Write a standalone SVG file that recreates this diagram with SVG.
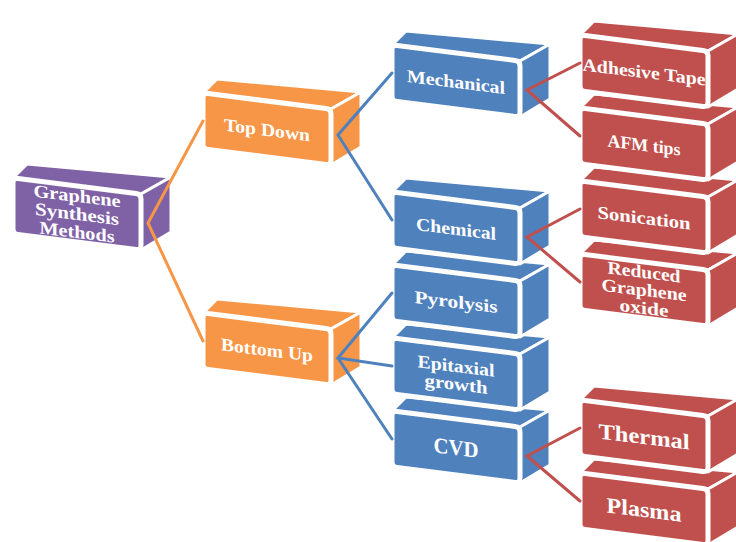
<svg xmlns="http://www.w3.org/2000/svg" xmlns:xlink="http://www.w3.org/1999/xlink" width="736" height="542" viewBox="0 0 736 542">
<defs>
<style>
.face{stroke:#fff;stroke-width:3;stroke-linejoin:round}
.front{stroke:#fff;stroke-width:5;stroke-linejoin:round}
.purple{fill:#7F62A6}
.orange{fill:#F79646}
.blue{fill:#4F81BD}
.red{fill:#C0504D}
.t{font-family:"Liberation Serif","Times New Roman",serif;font-weight:bold;font-size:18px;fill:#fff;text-anchor:middle}
.big{font-size:22px}
.c{fill:none;stroke-width:3;stroke-linecap:round}
.co{stroke:#F79646}
.cb{stroke:#4F81BD}
.cr{stroke:#C0504D}
</style>
<g id="box">
<polygon class="face" points="0,0 128,16 158,-1 14,-14"/>
<polygon class="face" points="128,16 158,-1 158,54 128,72"/>
<path class="front" d="M0,5 Q0,0 5,0.6 L123,15.4 Q128,16 128,21 L128,67 Q128,72 123,71.4 L5,56.6 Q0,56 0,51 Z"/>
</g>
</defs>
<rect width="736" height="542" fill="#fff"/>

<g id="n-graphene" transform="translate(13,178)">
<use xlink:href="#box" class="purple"/>
<g transform="translate(64,37) skewY(7)">
<text class="t" y="-13" textLength="87" lengthAdjust="spacingAndGlyphs">Graphene</text>
<text class="t" y="5" textLength="84" lengthAdjust="spacingAndGlyphs">Synthesis</text>
<text class="t" y="23" textLength="75" lengthAdjust="spacingAndGlyphs">Methods</text>
</g>
</g>

<g id="n-topdown" transform="translate(203,93)">
<use xlink:href="#box" class="orange"/>
<g transform="translate(64,37) skewY(7)"><text class="t" y="6" textLength="86" lengthAdjust="spacingAndGlyphs">Top Down</text></g>
</g>

<g id="n-bottomup" transform="translate(203,313)">
<use xlink:href="#box" class="orange"/>
<g transform="translate(64,37) skewY(7)"><text class="t" y="6" textLength="92" lengthAdjust="spacingAndGlyphs">Bottom Up</text></g>
</g>

<g id="n-cvd" transform="translate(392,411)">
<use xlink:href="#box" class="blue"/>
<g transform="translate(64,37) skewY(7)"><text class="t big" y="7" textLength="45" lengthAdjust="spacingAndGlyphs">CVD</text></g>
</g>

<g id="n-epitaxial" transform="translate(392,338)">
<use xlink:href="#box" class="blue"/>
<g transform="translate(64,37) skewY(7)">
<text class="t" y="-3" textLength="77" lengthAdjust="spacingAndGlyphs">Epitaxial</text>
<text class="t" y="15" textLength="63" lengthAdjust="spacingAndGlyphs">growth</text>
</g>
</g>

<g id="n-pyrolysis" transform="translate(392,265)">
<use xlink:href="#box" class="blue"/>
<g transform="translate(64,37) skewY(7)"><text class="t" y="6" textLength="83" lengthAdjust="spacingAndGlyphs">Pyrolysis</text></g>
</g>

<g id="n-chemical" transform="translate(392,192)">
<use xlink:href="#box" class="blue"/>
<g transform="translate(64,37) skewY(7)"><text class="t" y="6" textLength="80" lengthAdjust="spacingAndGlyphs">Chemical</text></g>
</g>

<g id="n-mechanical" transform="translate(392,45)">
<use xlink:href="#box" class="blue"/>
<g transform="translate(64,37) skewY(7)"><text class="t" y="6" textLength="98" lengthAdjust="spacingAndGlyphs">Mechanical</text></g>
</g>

<g id="n-plasma" transform="translate(580,473)">
<use xlink:href="#box" class="red"/>
<g transform="translate(64,37) skewY(7)"><text class="t big" y="7" textLength="75" lengthAdjust="spacingAndGlyphs">Plasma</text></g>
</g>

<g id="n-thermal" transform="translate(580,400)">
<use xlink:href="#box" class="red"/>
<g transform="translate(64,37) skewY(7)"><text class="t big" y="7" textLength="91" lengthAdjust="spacingAndGlyphs">Thermal</text></g>
</g>

<g id="n-reduced" transform="translate(580,254)">
<use xlink:href="#box" class="red"/>
<g transform="translate(64,37) skewY(7)">
<text class="t" y="-13" textLength="73" lengthAdjust="spacingAndGlyphs">Reduced</text>
<text class="t" y="5" textLength="85" lengthAdjust="spacingAndGlyphs">Graphene</text>
<text class="t" y="23" textLength="49" lengthAdjust="spacingAndGlyphs">oxide</text>
</g>
</g>

<g id="n-sonication" transform="translate(580,181)">
<use xlink:href="#box" class="red"/>
<g transform="translate(64,37) skewY(7)"><text class="t" y="6" textLength="93" lengthAdjust="spacingAndGlyphs">Sonication</text></g>
</g>

<g id="n-afm" transform="translate(580,108)">
<use xlink:href="#box" class="red"/>
<g transform="translate(64,37) skewY(7)"><text class="t" y="6" textLength="73" lengthAdjust="spacingAndGlyphs">AFM tips</text></g>
</g>

<g id="n-adhesive" transform="translate(580,35)">
<use xlink:href="#box" class="red"/>
<g transform="translate(64,37) skewY(7)"><text class="t" y="6" textLength="123" lengthAdjust="spacingAndGlyphs">Adhesive Tape</text></g>
</g>

<g id="connectors" class="c">
<path class="co" d="M203,121 L148,223 L203,341"/>
<path class="cb" d="M392,73 L338,135 L392,220"/>
<path class="cb" d="M392,293 L338,358 L392,366 M338,358 L392,439"/>
<path class="cr" d="M580,63 L527,90 L580,136"/>
<path class="cr" d="M580,209 L527,237 L580,282"/>
<path class="cr" d="M580,428 L527,456 L580,501"/>
</g>
</svg>
